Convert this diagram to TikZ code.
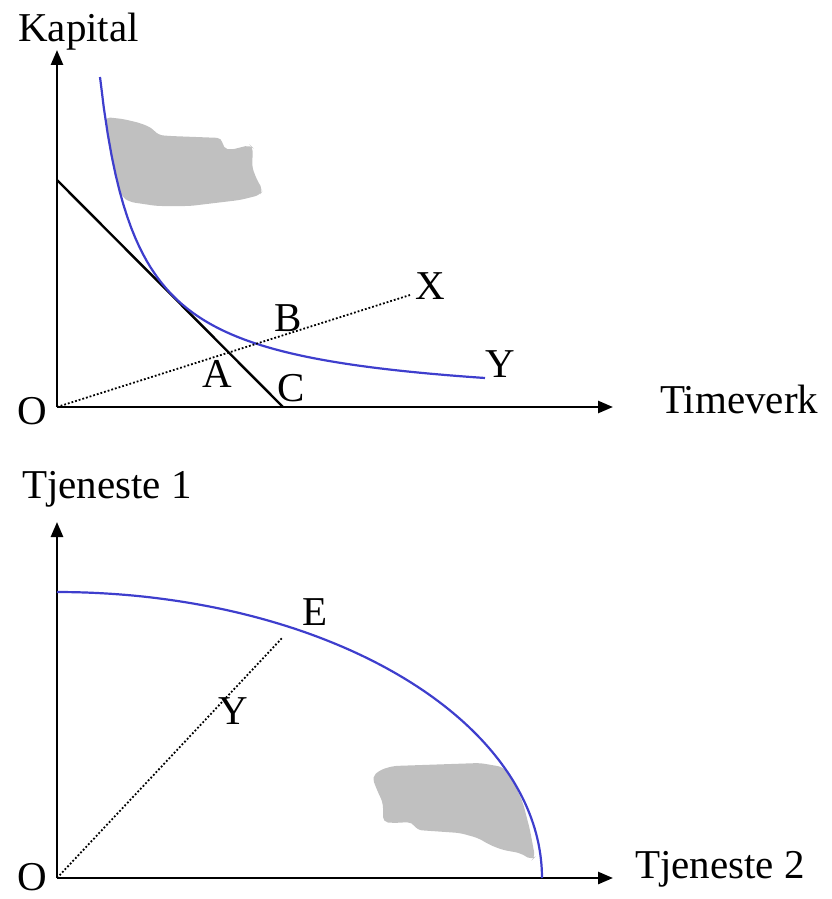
\documentclass[tikz,border=0pt]{standalone}
\usepackage{fontspec}
\setmainfont{Liberation Serif}
\usetikzlibrary{arrows.meta}

\definecolor{curveblue}{RGB}{62,62,205}
\definecolor{blobgray}{RGB}{192,192,192}

\begin{document}
\begin{tikzpicture}[
    x=1pt, y=-1pt,
    >={Triangle[length=15pt,width=12pt]},
    every node/.style={font=\fontsize{41}{45}\selectfont, inner sep=0pt},
    axis/.style={->, line width=2.6pt},
    budget/.style={line width=2.4pt},
    isoquant/.style={line width=2.2pt, draw=curveblue},
    ray/.style={line width=1.8pt, dotted},
    blob/.style={fill=blobgray, rounded corners=5pt}
]
\useasboundingbox (0,0) rectangle (831,899);

% upper panel: isoquant and cost line
\coordinate (O1) at (57,407);
\coordinate (kapTop) at (57,50);
\coordinate (timeEnd) at (613,407);
\coordinate (kapInt) at (57,180);
\coordinate (timeInt) at (283,407);
\coordinate (rayX) at (410,295);

\fill[blob] (105,117) -- (123,119) -- (140,123) -- (152,128) -- (158,135)
    -- (170,136) -- (222,138) -- (223,148) -- (230,150) -- (250,145)
    -- (253,148) -- (252,167) -- (257,180) -- (263,190) -- (260,195)
    -- (240,200) -- (190,206) -- (157,206) -- (130,202) -- (122,197)
    -- (113,167) -- (108,140) -- cycle;

\draw[axis] (O1) -- (kapTop);
\draw[axis] (O1) -- (timeEnd);
\node[anchor=base west] (kapital) at (18,42) {Kapital};
\node[anchor=base west] (timeverk) at (660,413) {Timeverk};
\node[anchor=base] (O1lab) at (32,424) {O};

\draw[budget] (kapInt) -- (timeInt);
\draw[isoquant] plot[domain=100:485, samples=100] (\x, {407-12243/(\x-62.9)});
\draw[ray] (O1) -- (rayX);

\node (Alab) at (217,374) {A};
\node (Blab) at (288,318) {B};
\node (Clab) at (291,388) {C};
\node (Xlab) at (430,286) {X};
\node (Ylab) at (500,364) {Y};

% lower panel: production possibilities
\coordinate (O2) at (57,878);
\coordinate (tj1Top) at (57,522);
\coordinate (tj2End) at (613,878);
\coordinate (rayE) at (283,637);

\fill[blob] (372,777) -- (380,770) -- (393,766) -- (480,763) -- (503,767)
    -- (513,780) -- (523,803) -- (530,830) -- (535,857) -- (532,860)
    -- (520,853) -- (503,850) -- (490,845) -- (478,838) -- (460,833)
    -- (417,830) -- (412,822) -- (393,823) -- (383,822) -- (383,803)
    -- (377,790) -- cycle;

\draw[axis] (O2) -- (tj1Top);
\draw[axis] (O2) -- (tj2End);
\node[anchor=base west] (tjeneste1) at (22,498) {Tjeneste 1};
\node[anchor=base west] (tjeneste2) at (635,878) {Tjeneste 2};
\node[anchor=base] (O2lab) at (32,890) {O};

\draw[isoquant] plot[domain=0:90, samples=100] ({57+485*cos(\x)}, {878-286*sin(\x)});
\draw[ray] (O2) -- (rayE);

\node (Elab) at (315,612) {E};
\node (Ylab2) at (233,711) {Y};

\end{tikzpicture}
\end{document}
